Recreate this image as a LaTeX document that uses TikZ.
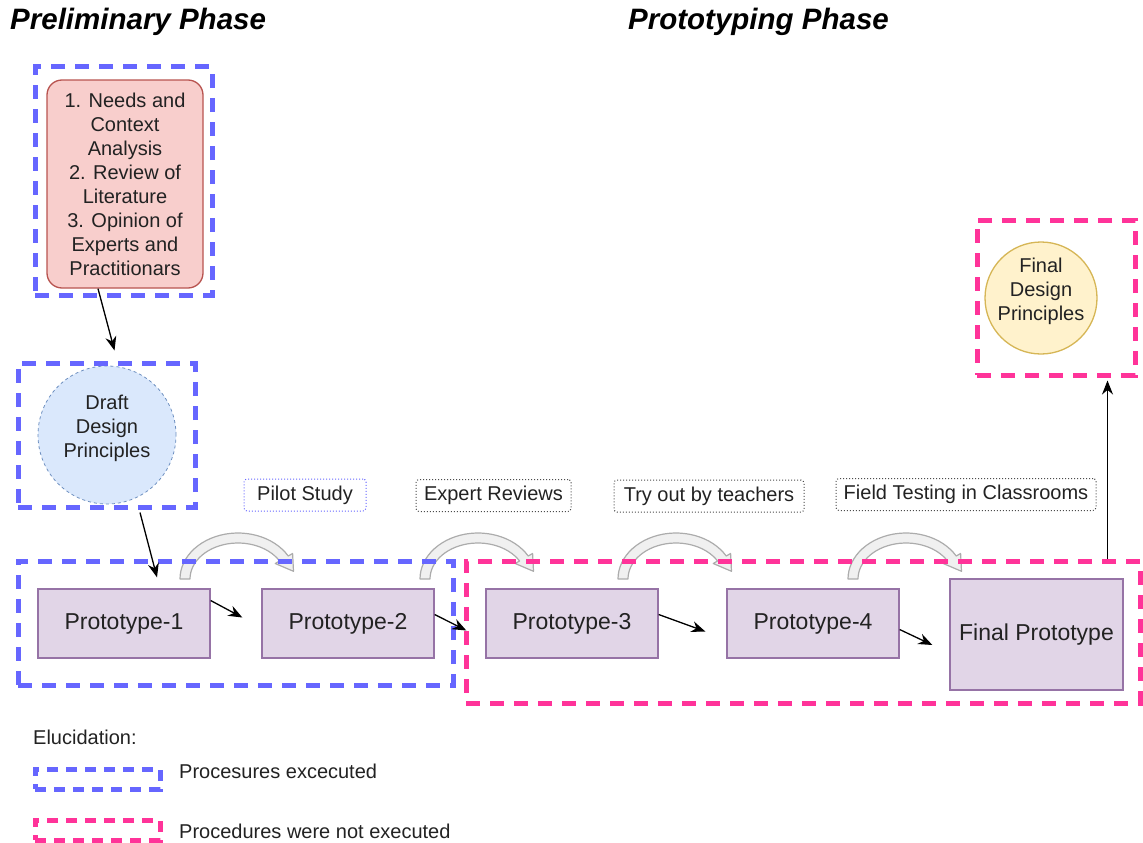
\documentclass[tikz,border=0pt]{standalone}
\usepackage{fontspec}
\setmainfont{Liberation Sans}
\usetikzlibrary{arrows.meta}
\definecolor{bluedash}{HTML}{6666FF}
\definecolor{pinkdash}{HTML}{FF3399}
\definecolor{redfill}{HTML}{F8CECC}
\definecolor{reddraw}{HTML}{B85450}
\definecolor{bluefill}{HTML}{DAE8FC}
\definecolor{bluedraw}{HTML}{6C8EBF}
\definecolor{yelfill}{HTML}{FFF2CC}
\definecolor{yeldraw}{HTML}{D6B656}
\definecolor{purpfill}{HTML}{E1D5E7}
\definecolor{purpdraw}{HTML}{9673A6}
\definecolor{txt}{HTML}{222222}
\tikzset{
  curvarr/.pic={
    \filldraw[draw=gray!65, fill=gray!12, line width=1.2pt, line join=round]
      plot[domain=180:30, samples=30] ({58*cos(\x)},{-46*sin(\x)})
      -- (54.6,-25.5) -- (55.5,-7.7) -- (37.2,-15.5)
      -- plot[domain=30:180, samples=30] ({48*cos(\x)},{-36*sin(\x)})
      -- cycle;
  }
}
\newcommand{\raisedtext}[1]{\raisebox{1.5pt}[0pt][0pt]{\begin{tabular}{@{}c@{}}#1\end{tabular}}}
\begin{document}
\begin{tikzpicture}[x=1pt,y=-1pt,
  every node/.style={text=txt, font=\fontsize{20}{24}\selectfont, inner sep=0pt},
  frameB/.style={draw=bluedash, line width=5pt, dash pattern=on 14pt off 10pt, rectangle},
  frameP/.style={draw=pinkdash, line width=5pt, dash pattern=on 14pt off 10pt, rectangle},
  proto/.style={draw=purpdraw, fill=purpfill, line width=1.3pt, font=\fontsize{23}{27}\selectfont, align=center},
  lbl/.style={draw=black!70, dotted, line width=1pt, rounded corners=3pt, minimum height=32pt, align=center},
  arr/.style={draw=black, line width=1.3pt, -{Stealth[length=14pt,width=11pt]}},
  title/.style={anchor=west, text=black, font=\fontsize{29.5}{33}\selectfont\bfseries\itshape},
]
\useasboundingbox (0,0) rectangle (1143,843);

% titles
\node[title] (t1) at (10,22) {Preliminary Phase};
\node[title] (t2) at (628,22) {Prototyping Phase};

% curved arrows (behind frames)
\pic at (238,579) {curvarr};
\pic at (478,579) {curvarr};
\pic at (676,579) {curvarr};
\pic at (906,579) {curvarr};

% main nodes
\node[draw=reddraw, fill=redfill, line width=1.3pt, rounded corners=15pt,
      minimum width=156pt, minimum height=208pt, align=center] (needs) at (125,184)
  {1. Needs and\\Context\\Analysis\\2. Review of\\Literature\\3. Opinion of\\Experts and\\Practitionars};
\node[circle, draw=bluedraw, fill=bluefill, dashed, line width=0.8pt,
      minimum size=138pt] (draft) at (107,435) {\raisedtext{Draft\\Design\\Principles}};
\node[circle, draw=yeldraw, fill=yelfill, line width=1.3pt,
      minimum size=112pt] (fdp) at (1041,298) {\raisedtext{Final\\Design\\Principles}};

\node[proto, minimum width=172pt, minimum height=69pt] (p1) at (124,623.5) {Prototype-1};
\node[proto, minimum width=172pt, minimum height=69pt] (p2) at (348,623.5) {Prototype-2};
\node[proto, minimum width=172pt, minimum height=69pt] (p3) at (572,623.5) {Prototype-3};
\node[proto, minimum width=172pt, minimum height=69pt] (p4) at (813,623.5) {Prototype-4};
\node[proto, minimum width=173pt, minimum height=111pt] (pf) at (1036.5,634.5) {Final Prototype};

% labels
\node[lbl, draw=bluedash, minimum width=122pt] (l1) at (305,495) {Pilot Study};
\node[lbl, minimum width=155pt] (l2) at (493.5,495.5) {Expert Reviews};
\node[lbl, minimum width=190pt] (l3) at (709,496) {Try out by teachers};
\node[lbl, minimum width=260pt] (l4) at (966,494.5) {Field Testing in Classrooms};

% frames
\node[frameB, minimum width=177pt, minimum height=228pt] (f1) at (123.5,181) {};
\node[frameB, minimum width=177pt, minimum height=144pt] (f2) at (106.5,435) {};
\node[frameB, minimum width=435pt, minimum height=124pt] (f3) at (235.5,623) {};
\node[frameP, minimum width=674pt, minimum height=142pt] (fP) at (803,632) {};
\node[frameP, minimum width=158pt, minimum height=155pt] (fF) at (1056,297.5) {};

% connectors
\draw[arr] ([shift={(-27,0)}]needs.south) -- ([shift={(8,-10)}]f2.north);
\draw[arr] ([shift={(33.5,3)}]f2.south) -- ([shift={(33,-11)}]p1.north);
\draw[arr] ([shift={(0,-23)}]p1.east) -- ([shift={(-19,-6)}]p2.west);
\draw[arr] ([shift={(0,-9)}]p2.east) -- ([shift={(-19,7)}]p3.west);
\draw[arr] ([shift={(0,-9)}]p3.east) -- ([shift={(-21,8)}]p4.west);
\draw[arr] ([shift={(0,6)}]p4.east) -- ([shift={(-17,10.5)}]pf.west);
\draw[arr] ([shift={(-35,0)}]fP.north east) -- ([shift={(-30,3)}]fF.south east);

% legend
\node[anchor=west] (eluc) at (33,737) {Elucidation:};
\node[frameB, minimum width=125pt, minimum height=20pt, dash pattern=on 11pt off 8pt] (lg1) at (97.5,779) {};
\node[anchor=west] (lt1) at (179,771) {Procesures excecuted};
\node[frameP, minimum width=125pt, minimum height=20pt, dash pattern=on 11pt off 8pt] (lg2) at (97.5,830) {};
\node[anchor=west] (lt2) at (179,831) {Procedures were not executed};
\end{tikzpicture}
\end{document}
